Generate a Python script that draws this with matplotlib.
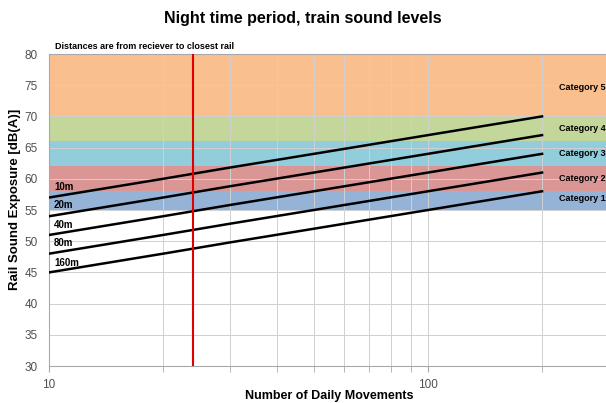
import matplotlib
matplotlib.use("Agg")
import matplotlib.pyplot as plt
from matplotlib.ticker import FixedLocator, NullFormatter

plt.rcParams['font.family'] = ['Liberation Sans', 'DejaVu Sans']

# Data
movements = [10, 20, 30, 50, 100, 200]
distance_labels = ["10m", "20m", "40m", "80m", "160m"]
levels = {
    "10m":  [57, 60, 61.8, 64, 67, 70],
    "20m":  [54, 57, 58.8, 61, 64, 67],
    "40m":  [51, 54, 55.8, 58, 61, 64],
    "80m":  [48, 51, 52.8, 55, 58, 61],
    "160m": [45, 48, 49.8, 52, 55, 58],
}
label_levels = [58.7, 55.8, 52.6, 49.7, 46.5]

categories = ["Category 1", "Category 2", "Category 3", "Category 4", "Category 5"]
cat_low = [55, 58, 62, 66, 70]
cat_high = [58, 62, 66, 70, 80]
cat_label_y = [56.8, 60.0, 64.0, 68.0, 74.7]
cat_colors = ["#95B3D7", "#DA9694", "#92CDDC", "#C4D79B", "#FABF8F"]

red_line_x = 24
y_ticks = [30, 35, 40, 45, 50, 55, 60, 65, 70, 75, 80]

fig = plt.figure(figsize=(6.06, 4.03), dpi=100)
ax = fig.add_axes([0.0809, 0.0918, 0.9191, 0.7742])
ax.set_xscale('log')
ax.set_xlim(10, 295)
ax.set_ylim(30, 80)

for lo, hi, c in zip(cat_low, cat_high, cat_colors):
    ax.axhspan(lo, hi, color=c, zorder=0, lw=0)

ax.set_yticks(y_ticks)
ax.xaxis.set_major_locator(FixedLocator([10, 100]))
ax.xaxis.set_minor_locator(FixedLocator([20, 30, 40, 50, 60, 70, 80, 90, 200]))
ax.xaxis.set_minor_formatter(NullFormatter())
ax.set_xticklabels(["10", "100"])
ax.grid(True, which='both', color='#D0D0D0', lw=0.7, zorder=1)
ax.set_axisbelow(True)

for name in distance_labels:
    ax.plot(movements, levels[name], color='black', lw=1.8, zorder=3)
for name, ly in zip(distance_labels, label_levels):
    ax.text(10.3, ly, name, fontsize=7, fontweight='bold', va='center', ha='left', zorder=4)

for name, ly in zip(categories, cat_label_y):
    ax.text(294, ly, name, fontsize=6.5, fontweight='bold', va='center', ha='right', zorder=4)

ax.axvline(red_line_x, color='#E00000', lw=1.5, zorder=3)

for s in ['left', 'bottom', 'top']:
    ax.spines[s].set_color('#A8A8A8')
ax.spines['right'].set_visible(False)
ax.tick_params(axis='both', which='both', colors='#A8A8A8', labelcolor='#505050', labelsize=8.5)
ax.tick_params(axis='y', length=0, pad=8)
ax.tick_params(axis='x', which='both', length=4, pad=5)

fig.text(15 / 606, 1 - 199 / 403, "Rail Sound Exposure [dB(A)]", fontsize=9.5, fontweight='bold',
         rotation=90, ha='center', va='center')
fig.text(329 / 606, 1 - 396 / 403, "Number of Daily Movements", fontsize=9, fontweight='bold',
         ha='center', va='center')

fig.text(0.5, 0.955, "Night time period, train sound levels", fontsize=11.5, fontweight='bold',
         ha='center', va='center')
fig.text(0.09, 0.885, "Distances are from reciever to closest rail", fontsize=6.5,
         fontweight='bold', ha='left', va='center')

fig.savefig("out.png", dpi=100)
